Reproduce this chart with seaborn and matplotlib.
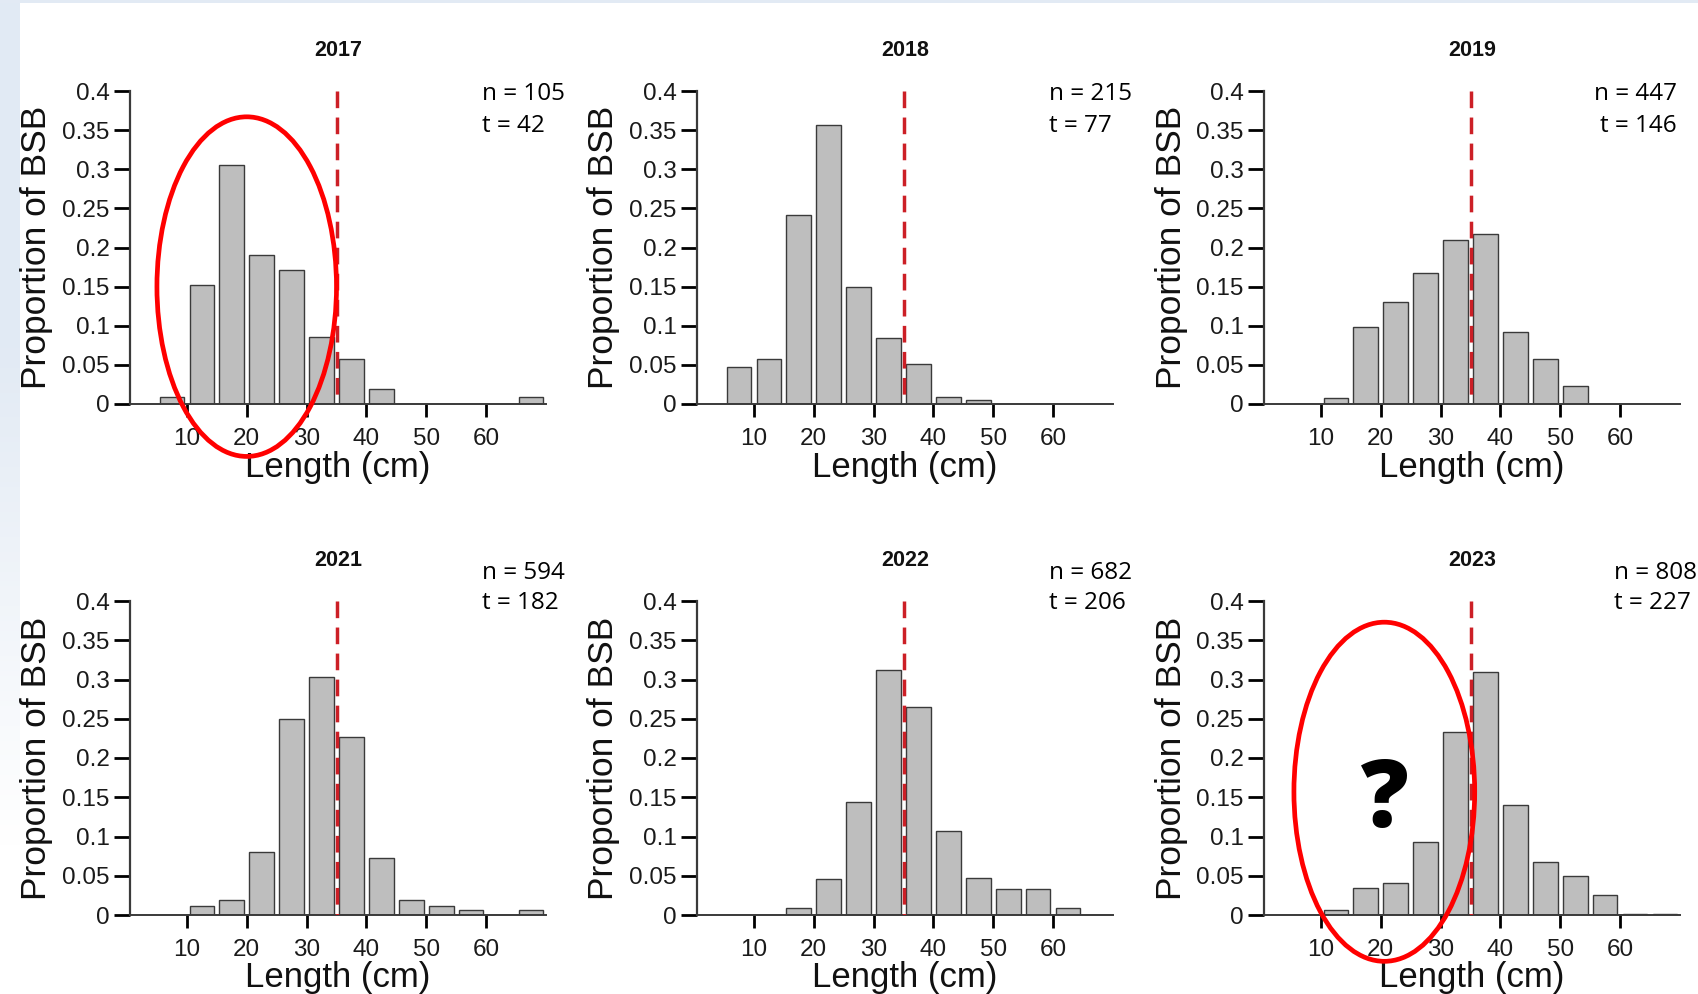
import numpy as np
import pandas as pd
import matplotlib
matplotlib.use("Agg")
import matplotlib.pyplot as plt
import seaborn as sns
from matplotlib.patches import Ellipse, Rectangle

# ---------------- data ----------------
length_mid = [7.5, 12.5, 17.5, 22.5, 27.5, 32.5, 37.5, 42.5, 47.5, 52.5, 57.5, 62.5, 67.5]
years = ["2017", "2018", "2019", "2021", "2022", "2023"]
prop_2017 = [0.0095, 0.152, 0.305, 0.190, 0.171, 0.086, 0.057, 0.019, 0, 0, 0, 0, 0.0095]
prop_2018 = [0.047, 0.057, 0.242, 0.357, 0.149, 0.084, 0.051, 0.0093, 0.0047, 0, 0, 0, 0]
prop_2019 = [0, 0.0072, 0.099, 0.130, 0.168, 0.209, 0.217, 0.092, 0.058, 0.023, 0, 0, 0]
prop_2021 = [0, 0.011, 0.0195, 0.080, 0.250, 0.303, 0.227, 0.073, 0.0195, 0.011, 0.0059, 0, 0.0059]
prop_2022 = [0, 0, 0.0085, 0.046, 0.1435, 0.312, 0.265, 0.107, 0.0474, 0.0326, 0.0326, 0.0085, 0]
prop_2023 = [0, 0.0068, 0.0339, 0.0406, 0.0931, 0.2328, 0.309, 0.1405, 0.0677, 0.050, 0.0258, 0.0015, 0.0015]
n_fish = [105, 215, 447, 594, 682, 808]
n_trips = [42, 77, 146, 182, 206, 227]
min_size = 35
y_max = 0.4
ytick_vals = [0, 0.05, 0.1, 0.15, 0.2, 0.25, 0.3, 0.35, 0.4]
ytick_labels = ["0", "0.05", "0.1", "0.15", "0.2", "0.25", "0.3", "0.35", "0.4"]
xtick_vals = [10, 20, 30, 40, 50, 60]
xtick_labels = ["10", "20", "30", "40", "50", "60"]
props = [prop_2017, prop_2018, prop_2019, prop_2021, prop_2022, prop_2023]

# ---------------- style ----------------
sns.set_theme(style="ticks")
plt.rcParams["font.family"] = ["Liberation Sans", "DejaVu Sans"]

W, H = 1699, 994
fig = plt.figure(figsize=(W / 100, H / 100), dpi=100, facecolor="white")

# slide background strips
bg = fig.add_axes([0, 0, 20 / W, 1], zorder=-10)
grad = np.ones((200, 1, 3))
top_c = np.array([0.886, 0.918, 0.957])
for i in range(200):
    f = i / 199  # 0 top -> 1 bottom
    if f < 0.35:
        c = top_c
    elif f < 0.85:
        t = (f - 0.35) / 0.5
        c = top_c * (1 - t) + np.array([1.0, 1.0, 1.0]) * t
    else:
        c = np.array([1.0, 1.0, 1.0])
    grad[i, 0] = c
bg.imshow(grad, aspect="auto", extent=[0, 1, 0, 1])
bg.set_axis_off()
fig.patches.append(Rectangle((0, 1 - 3 / H), 1, 3 / H, transform=fig.transFigure,
                             facecolor=(0.886, 0.918, 0.957), edgecolor="none", zorder=-5))

lefts = [130, 697, 1264]
rows = [(404, 313), (915, 314)]  # (bottom px from top, height px)
axw = 416

nt_pos = [  # (x px, align, n y px, t y px)
    (482, "left", 94, 126), (1049, "left", 94, 126), (1677, "right", 94, 126),
    (482, "left", 573, 603), (1049, "left", 573, 603), (1614, "left", 573, 603),
]

axes = []
for i, (yr, pr) in enumerate(zip(years, props)):
    r, c = divmod(i, 3)
    bottom_px, h_px = rows[r]
    ax = fig.add_axes([lefts[c] / W, 1 - bottom_px / H, axw / W, h_px / H])
    axes.append(ax)
    df = pd.DataFrame({"length": length_mid, "prop": pr})
    sns.barplot(data=df, x="length", y="prop", native_scale=True, width=0.82,
                color="#bebebe", saturation=1, edgecolor="#3a3a3a", linewidth=1.0,
                errorbar=None, ax=ax, zorder=2)
    # minimum size line, drawn top->bottom so the dash pattern starts at the top
    ax.plot([min_size, min_size], [y_max, 0], color="#cc1f26", lw=2.5,
            linestyle=(0, (4.8, 2.7)), zorder=3, solid_capstyle="butt")
    ax.set_xlim(0.5, 70)
    ax.set_ylim(0, y_max)
    ax.set_facecolor("none")
    for s in ["top", "right"]:
        ax.spines[s].set_visible(False)
    ax.spines["left"].set_bounds(0, y_max)
    ax.spines["left"].set_color("#3a3a3a")
    ax.spines["left"].set_linewidth(1.6)
    ax.spines["bottom"].set_color("#3a3a3a")
    ax.spines["bottom"].set_linewidth(1.4)
    ax.set_yticks(ytick_vals, ytick_labels)
    ax.set_xticks(xtick_vals, xtick_labels)
    ax.tick_params(axis="y", left=True, direction="out", length=11.5, width=2.0,
                   color="black", pad=3, labelsize=17.5, labelcolor="#1a1a1a")
    ax.tick_params(axis="x", bottom=True, direction="out", length=9, width=2.0,
                   color="black", pad=8, labelsize=17.5, labelcolor="#1a1a1a")
    ax.set_xlabel("Length (cm)", fontsize=25, va="center", color="#111111")
    ax.xaxis.set_label_coords(0.5, -63 / h_px)
    ax.set_ylabel("Proportion of BSB", fontsize=25.5, va="center", color="#111111")
    ax.yaxis.set_label_coords(-93 / axw, 0.5)
    ax.set_title(yr, fontsize=15.5, fontweight="bold", pad=25, color="#111111")

    x_px, ha, ny, ty = nt_pos[i]
    fig.text(x_px / W, 1 - ny / H, f"n = {n_fish[i]}", ha=ha, va="center",
             fontsize=17.5, family=["Open Sans", "DejaVu Sans"], color="black")
    fig.text(x_px / W, 1 - ty / H, f"t = {n_trips[i]}", ha=ha, va="center",
             fontsize=17.5, family=["Open Sans", "DejaVu Sans"], color="black")

# annotations
axes[0].add_patch(Ellipse((20.0, 0.15), 30.0, 0.434, fill=False, edgecolor="#ff0000",
                          lw=3.4, clip_on=False, zorder=6))
axes[5].add_patch(Ellipse((20.6, 0.157), 30.2, 0.432, fill=False, edgecolor="#ff0000",
                          lw=3.4, clip_on=False, zorder=6))
axes[5].text(20.7, 0.112, "?", ha="center", va="baseline", fontsize=68,
             fontweight="heavy", family=["Open Sans", "DejaVu Sans"], color="black",
             zorder=7)

fig.savefig("out.png", dpi=100, facecolor="white")
